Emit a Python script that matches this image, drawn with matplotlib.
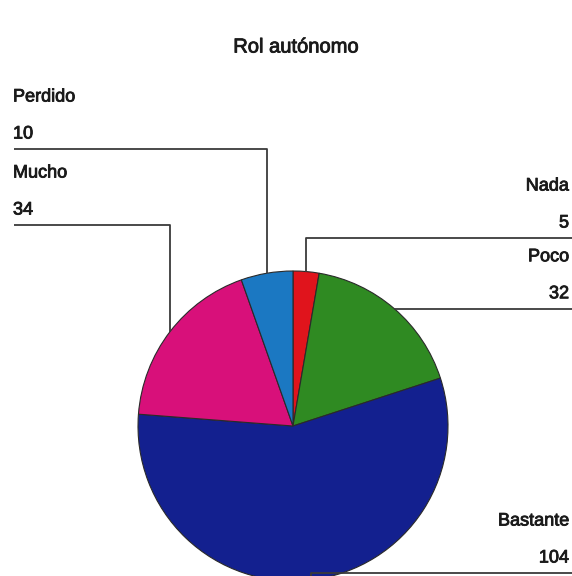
import numpy as np
import matplotlib
matplotlib.use("Agg")
import matplotlib.pyplot as plt
import matplotlib.patheffects as pe

plt.rcParams["font.family"] = ["Liberation Sans", "DejaVu Sans"]

title = "Rol autónomo"
labels = ["Nada", "Poco", "Bastante", "Mucho", "Perdido"]
values = [5, 32, 104, 34, 10]
colors = ["#e0141c", "#2f8a22", "#13208f", "#d8107a", "#1b78c2"]

# label placement: side of the figure and height of the leader line (px from bottom)
sides = ["right", "right", "right", "left", "left"]
line_y = {"Nada": 338, "Mucho": 351, "Perdido": 427, "Bastante": 3}

W, H = 572, 576
fig = plt.figure(figsize=(W / 100, H / 100), dpi=100)
ax = fig.add_axes([0, 0, 1, 1])

cx, cy, R = 293, 150, 155
wedges, _ = ax.pie(values, colors=colors, startangle=90, counterclock=False,
                   center=(cx, cy), radius=R,
                   wedgeprops=dict(edgecolor="#2a2a2a", linewidth=0.8))
ax.set_xlim(0, W)
ax.set_ylim(0, H)
ax.set_aspect("auto")
ax.axis("off")

# scanned original has slightly heavy text
bold_fx = [pe.withStroke(linewidth=0.6, foreground="#1a1a1a")]

for w, lab, val, side in zip(wedges, labels, values, sides):
    mid = np.deg2rad((w.theta1 + w.theta2) / 2)
    px, py = cx + R * np.cos(mid), cy + R * np.sin(mid)
    ly = line_y.get(lab, py)
    if side == "left":
        xs, ys = [px, px, 14], [py, ly, ly]
        tx, ha = 13, "left"
    else:
        xs, ys = [px, px, W], [py, ly, ly]
        tx, ha = W - 3, "right"
    ax.plot(xs, ys, color="#3a3a3a", lw=1.3, solid_capstyle="butt", clip_on=False)
    ax.text(tx, ly + 15, str(val), ha=ha, va="center", fontsize=13,
            color="#1a1a1a", path_effects=bold_fx)
    ax.text(tx, ly + 52, lab, ha=ha, va="center", fontsize=13,
            color="#1a1a1a", path_effects=bold_fx)

ax.text(W / 2 + 10, H - 47, title, ha="center", va="center", fontsize=14.5,
        color="#1a1a1a", path_effects=bold_fx)

fig.savefig("out.png", dpi=100)
